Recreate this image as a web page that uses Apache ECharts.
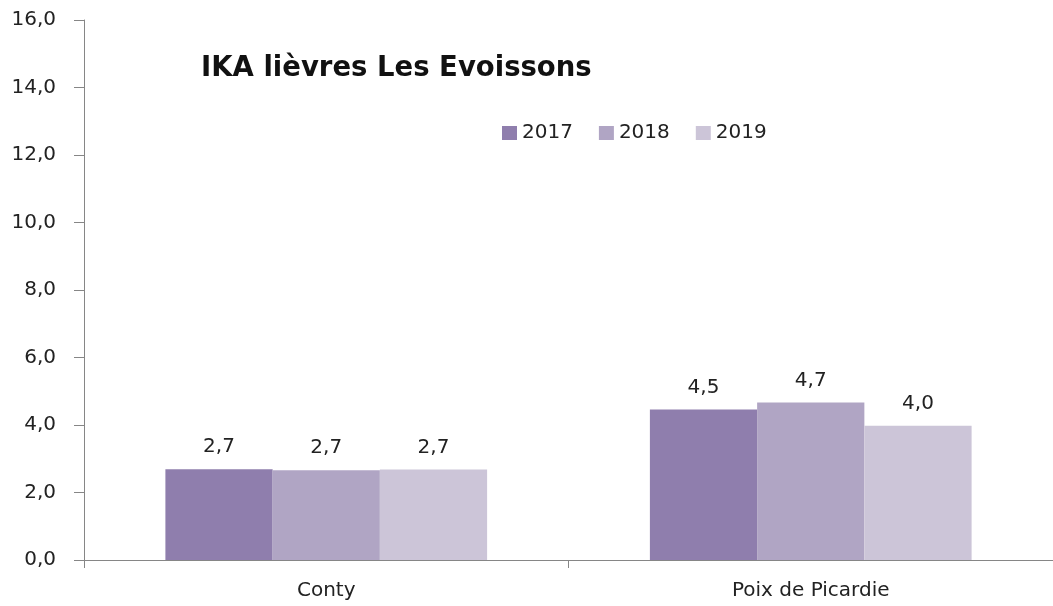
<!DOCTYPE html>
<html>
<head>
<meta charset="utf-8">
<script src="https://cdn.jsdelivr.net/npm/echarts@6/dist/echarts.min.js"></script>
<style>
  html, body { margin: 0; padding: 0; background: #fff; }
  #chart { width: 1053px; height: 606px; }
</style>
</head>
<body>
<div id="chart"></div>
<script>
const categories = ['Conty', 'Poix de Picardie'];
const years = ['2017', '2018', '2019'];
const values2017 = [2.69, 4.46];
const values2018 = [2.66, 4.67];
const values2019 = [2.68, 3.98];
const colors = ['#8f7ead', '#b0a5c4', '#ccc5d8'];

const myChart = echarts.init(document.getElementById('chart'), null, { renderer: 'canvas' });

const fmt = v => v.toFixed(1).replace('.', ',');
const font = 'DejaVu Sans';

const makeSeries = (name, data, color) => ({
  name: name,
  type: 'bar',
  data: data,
  barGap: 0,
  barCategoryGap: '33.6%',
  itemStyle: { color: color },
  label: {
    show: true,
    position: 'top',
    distance: 12,
    color: '#222',
    fontFamily: font,
    fontSize: 20,
    formatter: p => fmt(p.value)
  }
});

const option = {
  animation: false,
  title: {
    text: 'IKA lièvres Les Evoissons',
    left: 196,
    top: 50,
    textStyle: { fontFamily: font, fontSize: 27.5, fontWeight: 'bold', color: '#111' }
  },
  legend: {
    data: years,
    left: 497,
    top: 118,
    itemWidth: 15,
    itemHeight: 14,
    itemGap: 26,
    icon: 'rect',
    textStyle: { fontFamily: font, fontSize: 20, color: '#222' }
  },
  grid: { left: 84, right: -3, top: 20, bottom: 46 },
  xAxis: {
    type: 'category',
    data: categories,
    axisLine: { lineStyle: { color: '#868686' } },
    axisTick: { show: true, length: 8, lineStyle: { color: '#868686' } },
    axisLabel: { fontFamily: font, fontSize: 20, color: '#222', margin: 21 }
  },
  yAxis: {
    type: 'value',
    min: 0,
    max: 16,
    interval: 2,
    axisLine: { show: true, lineStyle: { color: '#868686' } },
    axisTick: { show: true, length: 10, lineStyle: { color: '#868686' } },
    splitLine: { show: false },
    axisLabel: { fontFamily: font, fontSize: 20, color: '#222', margin: 28, formatter: v => fmt(v) }
  },
  series: [
    makeSeries(years[0], values2017, colors[0]),
    makeSeries(years[1], values2018, colors[1]),
    makeSeries(years[2], values2019, colors[2])
  ]
};

myChart.setOption(option);
</script>
</body>
</html>
